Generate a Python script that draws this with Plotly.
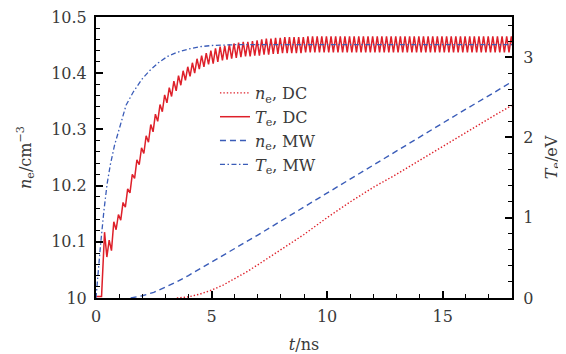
import plotly.graph_objects as go

# ---------------- data ----------------
# n_e, DC  (log10 n_e, left axis)
ne_dc_t = [3.5, 4.0, 4.5, 5.0, 5.5, 6.0, 6.5, 7.0, 7.5, 8.0, 9.0, 10.0, 11.0, 12.0,
           13.0, 14.0, 15.0, 16.0, 17.0, 18.0]
ne_dc_v = [10.0, 10.002, 10.007, 10.014, 10.023, 10.034, 10.046, 10.059, 10.072, 10.086,
           10.113, 10.143, 10.171, 10.197, 10.22, 10.245, 10.27, 10.294, 10.319, 10.343]

# n_e, MW
ne_mw_t = [1.5, 2.0, 2.5, 3.0, 3.5, 4.0, 4.5, 5.0, 6.0, 7.0, 8.0, 9.0, 10.0, 11.0,
           12.0, 13.0, 14.0, 15.0, 16.0, 17.0, 18.0]
ne_mw_v = [10.0, 10.004, 10.01, 10.019, 10.029, 10.04, 10.052, 10.063, 10.087, 10.112,
           10.137, 10.162, 10.187, 10.212, 10.237, 10.262, 10.287, 10.312, 10.336, 10.36, 10.385]

# T_e, MW (eV, right axis)
te_mw_t = [0.0, 0.05, 0.1, 0.19, 0.34, 0.48, 0.62, 0.8, 1.0, 1.3, 1.6, 2.0, 2.35, 2.7,
           3.1, 3.5, 4.0, 4.5, 5.0, 5.5, 6.0, 7.0, 18.0]
te_mw_v = [0.0, 0.2, 0.38, 0.64, 1.08, 1.42, 1.66, 1.9, 2.1, 2.4, 2.56, 2.73, 2.84, 2.93,
           3.01, 3.06, 3.1, 3.13, 3.145, 3.15, 3.155, 3.155, 3.155]

# T_e, DC (eV, right axis) - successive maxima / minima of the oscillation
te_dc_t = [0.0, 0.24,
           0.37, 0.47, 0.57, 0.67, 0.77, 0.87, 0.97, 1.07, 1.17, 1.27,
           1.37, 1.47, 1.57, 1.67, 1.77, 1.87, 1.97, 2.07, 2.17, 2.27,
           2.37, 2.47, 2.57, 2.67, 2.77, 2.87, 2.97, 3.07, 3.17, 3.27,
           3.37, 3.47, 3.57, 3.67, 3.77, 3.87, 3.97, 4.07, 4.17, 4.27,
           4.37, 4.47, 4.57, 4.67, 4.77, 4.87, 4.97, 5.07, 5.17, 5.27,
           5.37, 5.47, 5.57, 5.67, 5.77, 5.87, 5.97, 6.07, 6.17, 6.27,
           6.37, 6.47, 6.57, 6.67, 6.77, 6.87, 6.97, 7.07, 7.17, 7.27,
           7.37, 7.47, 7.57, 7.67, 7.77, 7.87, 7.97, 8.07, 8.17, 8.27,
           8.37, 8.47, 8.57, 8.67, 8.77, 8.87, 8.97, 9.07, 9.17, 9.27,
           9.37, 9.47, 9.57, 9.67, 9.77, 9.87, 9.97, 10.07, 10.17, 10.27,
           10.37, 10.47, 10.57, 10.67, 10.77, 10.87, 10.97, 11.07, 11.17, 11.27,
           11.37, 11.47, 11.57, 11.67, 11.77, 11.87, 11.97, 12.07, 12.17, 12.27,
           12.37, 12.47, 12.57, 12.67, 12.77, 12.87, 12.97, 13.07, 13.17, 13.27,
           13.37, 13.47, 13.57, 13.67, 13.77, 13.87, 13.97, 14.07, 14.17, 14.27,
           14.37, 14.47, 14.57, 14.67, 14.77, 14.87, 14.97, 15.07, 15.17, 15.27,
           15.37, 15.47, 15.57, 15.67, 15.77, 15.87, 15.97, 16.07, 16.17, 16.27,
           16.37, 16.47, 16.57, 16.67, 16.77, 16.87, 16.97, 17.07, 17.17, 17.27,
           17.37, 17.47, 17.57, 17.67, 17.77, 17.87, 17.97, 18.07]
te_dc_v = [0.02, 0.02,
           0.82, 0.51, 0.72, 0.59, 0.95, 0.85, 1.04, 0.97, 1.19, 1.13,
           1.36, 1.31, 1.54, 1.49, 1.72, 1.66, 1.87, 1.80, 2.02, 1.94,
           2.16, 2.07, 2.29, 2.20, 2.41, 2.32, 2.53, 2.43, 2.62, 2.51,
           2.70, 2.58, 2.77, 2.65, 2.83, 2.71, 2.88, 2.76, 2.93, 2.80,
           2.98, 2.85, 3.02, 2.88, 3.05, 2.91, 3.08, 2.92, 3.11, 2.94,
           3.13, 2.96, 3.14, 2.97, 3.16, 2.98, 3.17, 2.99, 3.18, 3.00,
           3.19, 3.01, 3.19, 3.01, 3.20, 3.02, 3.21, 3.02, 3.22, 3.03,
           3.23, 3.03, 3.23, 3.04, 3.24, 3.04, 3.24, 3.05, 3.25, 3.05,
           3.25, 3.05, 3.25, 3.05, 3.25, 3.05, 3.25, 3.06, 3.26, 3.06,
           3.26, 3.06, 3.26, 3.06, 3.26, 3.06, 3.26, 3.06, 3.26, 3.06,
           3.26, 3.06, 3.26, 3.06, 3.26, 3.06, 3.26, 3.06, 3.26, 3.06,
           3.26, 3.06, 3.26, 3.06, 3.26, 3.06, 3.26, 3.06, 3.26, 3.06,
           3.26, 3.06, 3.26, 3.06, 3.26, 3.06, 3.26, 3.06, 3.26, 3.06,
           3.26, 3.06, 3.26, 3.06, 3.26, 3.06, 3.26, 3.06, 3.26, 3.06,
           3.26, 3.06, 3.26, 3.06, 3.26, 3.06, 3.26, 3.06, 3.26, 3.06,
           3.26, 3.06, 3.26, 3.06, 3.26, 3.06, 3.26, 3.06, 3.26, 3.06,
           3.26, 3.06, 3.26, 3.06, 3.26, 3.06, 3.26, 3.06, 3.26, 3.06,
           3.26, 3.06, 3.26, 3.06, 3.26, 3.06, 3.26, 3.06]

x_ticks = [0, 5, 10, 15]
x_labels = ["0", "5", "10", "15"]
y_ticks = [10.0, 10.1, 10.2, 10.3, 10.4, 10.5]
y_labels = ["10", "10.1", "10.2", "10.3", "10.4", "10.5"]
y2_ticks = [0, 1, 2, 3]
y2_labels = ["0", "1", "2", "3"]

names = ["<i>n</i><sub>e</sub>, DC", "<i>T</i><sub>e</sub>, DC",
         "<i>n</i><sub>e</sub>, MW", "<i>T</i><sub>e</sub>, MW"]

RED = "rgb(222,32,42)"
BLUE = "rgb(58,92,184)"
FONT = "DejaVu Serif"
TXT = "#3a3a3a"

fig = go.Figure()
fig.add_trace(go.Scatter(x=ne_dc_t, y=ne_dc_v, mode="lines", name=names[0],
                         line=dict(color=RED, width=1.4, dash="1.4px,2px")))
fig.add_trace(go.Scatter(x=te_dc_t, y=te_dc_v, mode="lines", name=names[1], yaxis="y2",
                         line=dict(color=RED, width=1.5)))
fig.add_trace(go.Scatter(x=ne_mw_t, y=ne_mw_v, mode="lines", name=names[2],
                         line=dict(color=BLUE, width=1.4, dash="6px,4px")))
fig.add_trace(go.Scatter(x=te_mw_t, y=te_mw_v, mode="lines", name=names[3], yaxis="y2",
                         line=dict(color=BLUE, width=1.3, dash="5px,2.5px,1.5px,2.5px")))

axis_common = dict(showline=True, linecolor="black", linewidth=2, ticks="inside",
                   tickcolor="black", tickwidth=1.5, ticklen=7, showgrid=False,
                   zeroline=False, automargin=False, ticklabeloverflow="allow",
                   tickfont=dict(family=FONT, size=16, color=TXT))

fig.update_layout(
    width=558, height=346,
    margin=dict(l=88, r=54, t=9, b=56),
    paper_bgcolor="white", plot_bgcolor="white",
    font=dict(family=FONT, size=16, color=TXT),
    showlegend=True,
    legend=dict(x=0.286, y=0.79, xanchor="left", yanchor="top",
                bgcolor="rgba(0,0,0,0)", font=dict(family=FONT, size=16, color=TXT),
                tracegroupgap=0, itemwidth=30),
    xaxis=dict(range=[0, 18], tickvals=x_ticks, ticktext=x_labels, mirror=True,
               ticklabelstandoff=3,
               minor=dict(dtick=1, ticks="inside", ticklen=4, tickcolor="black", tickwidth=1.2),
               title=dict(text="<i>t</i>/ns", font=dict(family=FONT, size=16, color=TXT),
                          standoff=16),
               **axis_common),
    yaxis=dict(range=[10, 10.5], tickvals=y_ticks, ticktext=y_labels,
               ticklabelstandoff=4,
               minor=dict(dtick=0.02, ticks="inside", ticklen=4, tickcolor="black", tickwidth=1.2),
               title=dict(text="<i>n</i><sub>e</sub>/cm<sup>−3</sup>",
                          font=dict(family=FONT, size=16, color=TXT), standoff=16),
               **axis_common),
    yaxis2=dict(range=[0, 3.5], tickvals=y2_ticks, ticktext=y2_labels, overlaying="y",
                side="right", ticklabelstandoff=6,
                minor=dict(dtick=0.2, ticks="inside", ticklen=4, tickcolor="black", tickwidth=1.2),
                title=dict(text="<i>T</i><sub>e</sub>/eV", font=dict(family=FONT, size=16, color=TXT),
                           standoff=13),
                **axis_common),
)

fig.write_html("out.html")
